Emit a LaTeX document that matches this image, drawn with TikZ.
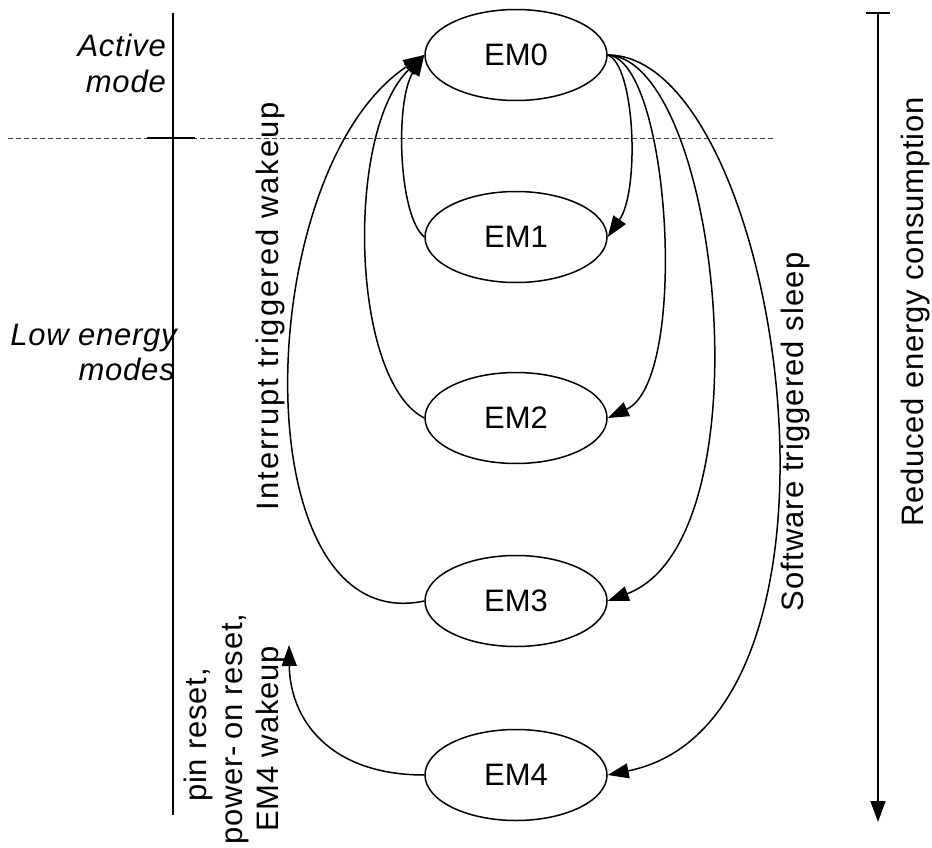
\documentclass[tikz,border=0pt]{standalone}
\usepackage{fontspec}
\setmainfont{Liberation Sans}
\newfontfamily\trackA{Liberation Sans}[LetterSpace=2.5]
\newfontfamily\trackB{Liberation Sans}[LetterSpace=3.5]
\newfontfamily\trackC{Liberation Sans}[LetterSpace=6.5]
\usetikzlibrary{shapes.geometric,arrows.meta}
\begin{document}
\begin{tikzpicture}[x=1pt,y=-1pt,
  font=\fontsize{31}{36}\selectfont,
  state/.style={ellipse,draw,line width=1.5pt,minimum width=182pt,minimum height=91pt,inner sep=0pt},
  conn/.style={line width=1.5pt,-{Triangle[length=21pt,width=15pt]}},
  axis/.style={line width=1.5pt},
  lbl/.style={inner sep=0pt},
  modelbl/.style={lbl,anchor=base east,font=\trackA\fontsize{31}{36}\selectfont\itshape},
  vlbl/.style={lbl,rotate=90,anchor=base,font=\trackA\fontsize{31}{36}\selectfont},
  sep/.style={line width=0.8pt,black!75,dash pattern=on 5pt off 3pt}
]
\useasboundingbox (0,0) rectangle (932,848);

% separator and axes
\coordinate (dl) at (8,138);
\coordinate (dr) at (775,138);
\draw[sep] (dl) -- (dr);

\coordinate (ltop) at (173,13);
\coordinate (lbot) at (173,815);
\coordinate (tickl) at (147,138);
\coordinate (tickr) at (195,138);
\draw[axis] (ltop) -- (lbot);
\draw[axis] (tickl) -- (tickr);

\coordinate (rtop) at (878,13);
\coordinate (rbot) at (878,822);
\coordinate (rtl) at (866,13);
\coordinate (rtr) at (890,13);
\draw[axis,-{Triangle[length=21pt,width=15pt]}] (rtop) -- (rbot);
\draw[axis] (rtl) -- (rtr);

% states
\node[state] (em0) at (516,55) {EM0};
\node[state] (em1) at (516,237) {EM1};
\node[state] (em2) at (516,418) {EM2};
\node[state] (em3) at (516,601) {EM3};
\node[state] (em4) at (516,775) {EM4};

% mode labels
\node[modelbl] (act1) at (166,57) {Active};
\node[modelbl] (act2) at (166,93) {mode};
\node[modelbl] (low1) at (177,345) {Low energy};
\node[modelbl] (low2) at (175,380) {modes};

% rotated labels
\node[vlbl,font=\trackC\fontsize{31}{36}\selectfont] (intr) at (278,306) {Interrupt triggered wakeup};
\node[vlbl,font=\trackB\fontsize{31}{36}\selectfont] (soft) at (803,432) {Software triggered sleep};
\node[vlbl] (red) at (923,312) {Reduced energy consumption};
\node[vlbl] (rs1) at (206,735) {pin reset,};
\node[vlbl] (rs2) at (242,729) {power-\kern6pt on reset,};
\node[vlbl] (rs3) at (278,739) {EM4 wakeup};

% sleep transitions
\draw[conn] (em0.east) .. controls (635,65) and (640,190) .. (em1.east);
\draw[conn] (em0.east) .. controls (670,60) and (690,380) .. (em2.east);
\draw[conn] (em0.east) .. controls (720,60) and (770,540) .. (em3.east);
\draw[conn] (em0.east) .. controls (780,55) and (880,720) .. (em4.east);

% wakeup transitions
\draw[conn] (em1.west) .. controls (398,215) and (395,100) .. (em0.west);
\draw[conn] (em2.west) .. controls (350,380) and (345,130) .. (em0.west);
\draw[conn] (em3.west) .. controls (240,640) and (250,170) .. (em0.west);

\coordinate (resettip) at (289,645);
\draw[conn] (em4.west) .. controls (330,775) and (290,720) .. (resettip);
\end{tikzpicture}
\end{document}
